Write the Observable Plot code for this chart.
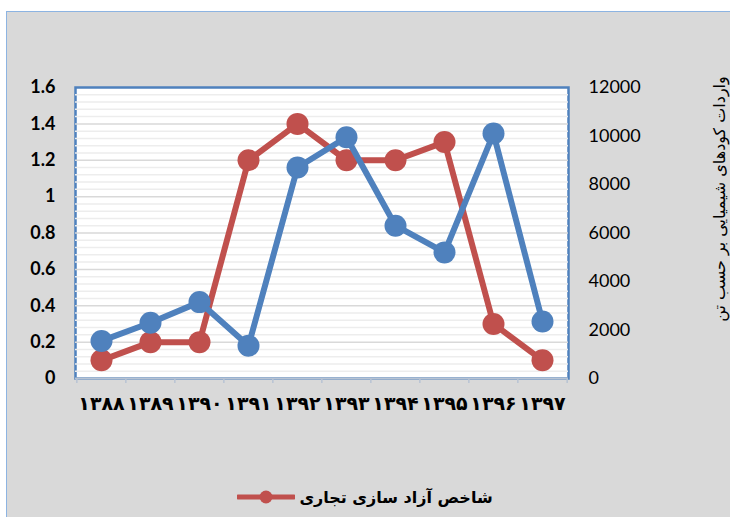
<!DOCTYPE html>
<html><head><meta charset="utf-8">
<script src="https://cdn.jsdelivr.net/npm/d3@7"></script>
<script src="https://cdn.jsdelivr.net/npm/@observablehq/plot@0.6"></script>
<style>
body{margin:0;background:#fff;}
#wrap{position:relative;width:730px;height:517px;overflow:hidden;background:#fff;}
#panel{position:absolute;left:6px;top:11px;width:740px;height:520px;background:#D9D9D9;border-left:1.5px solid #8DB4E2;border-top:1.5px solid #8DB4E2;}
#chart{position:absolute;left:0;top:0;}
#ytitle{position:absolute;left:719px;top:199px;transform:translate(-50%,-50%) rotate(-90deg);white-space:nowrap;font-family:"DejaVu Sans";font-size:16px;color:#000;direction:rtl;}
#legend{position:absolute;left:0;width:730px;top:485px;height:24px;display:flex;justify-content:center;align-items:center;gap:4px;}
#legend span{font-family:"DejaVu Sans";font-weight:bold;font-size:16px;color:#000;direction:rtl;}
</style>
</head><body>
<div id="wrap">
  <div id="panel"></div>
  <div id="chart"></div>
  <div id="ytitle"></div>
  <div id="legend"></div>
</div>
<script>
// ---- data ----
const years = ["1388","1389","1390","1391","1392","1393","1394","1395","1396","1397"];
const yearLabels = ["۱۳۸۸","۱۳۸۹","۱۳۹۰","۱۳۹۱","۱۳۹۲","۱۳۹۳","۱۳۹۴","۱۳۹۵","۱۳۹۶","۱۳۹۷"];
const tradeIndex = [0.1, 0.2, 0.2, 1.2, 1.4, 1.2, 1.2, 1.3, 0.3, 0.1];
const fertilizerImports = [1550, 2300, 3150, 1350, 8700, 9950, 6300, 5200, 10100, 2350];
const leftTicks = [0, 0.2, 0.4, 0.6, 0.8, 1, 1.2, 1.4, 1.6];
const rightTicks = [0, 2000, 4000, 6000, 8000, 10000, 12000];
const seriesName = "شاخص آزاد سازی تجاری";
const rightTitle = "واردات کودهای شیمیایی بر حسب تن";

// ---- layout ----
const W = 730, H = 430, mL = 75, mR = 162, mT = 87, mB = 52;
const red = "#C0504D", blue = "#4F81BD";
const ratio = rightTicks[rightTicks.length-1] / leftTicks[leftTicks.length-1];
const step = (W - mL - mR) / years.length;
const pxPerUnit = (H - mT - mB) / leftTicks[leftTicks.length-1];

const redData = years.map((y,i) => ({year:y, v:tradeIndex[i]}));
const blueData = years.map((y,i) => ({year:y, v:fertilizerImports[i]/ratio}));
const majors = leftTicks.slice(1, -1);
const minors = d3.range(1, 40).map(i => i*0.04).filter(v => Math.abs(v/0.2 - Math.round(v/0.2)) > 1e-6);
const tickLen = 5 / pxPerUnit;

const plot = Plot.plot({
  width: W, height: H,
  marginLeft: mL, marginRight: mR, marginTop: mT, marginBottom: mB,
  style: {background: "transparent", overflow: "visible"},
  x: {type: "point", domain: years, padding: 0.5, axis: null},
  y: {domain: [0, 1.6], axis: null},
  marks: [
    Plot.frame({fill: "white", stroke: blue, strokeWidth: 2.5}),
    Plot.ruleY(minors, {stroke: "#EDEDED", strokeWidth: 1.5}),
    Plot.ruleY(majors, {stroke: "#D9D9D9", strokeWidth: 1.5}),
    Plot.ruleY([0], {stroke: "#B7C3D3", strokeWidth: 2}),
    Plot.ruleX(years, {x: d => d, y1: 0, y2: -tickLen, dx: -step/2, stroke: "#B7C3D3", strokeWidth: 1.5}),
    Plot.ruleX(years.slice(-1), {x: d => d, y1: 0, y2: -tickLen, dx: step/2, stroke: "#B7C3D3", strokeWidth: 1.5}),
    Plot.line(redData, {x: "year", y: "v", stroke: red, strokeWidth: 6}),
    Plot.dot(redData, {x: "year", y: "v", r: 11, fill: red}),
    Plot.line(blueData, {x: "year", y: "v", stroke: blue, strokeWidth: 6}),
    Plot.dot(blueData, {x: "year", y: "v", r: 11, fill: blue}),
    Plot.text(leftTicks, {y: d => d, text: d => String(d), frameAnchor: "left", textAnchor: "end", dx: -20,
      fontFamily: "Lato", fontWeight: "bold", fontSize: 18, fill: "#000"}),
    Plot.text(rightTicks, {y: d => d/ratio, text: d => String(d), frameAnchor: "right", textAnchor: "start", dx: 20,
      fontFamily: "Lato", fontSize: 18, fill: "#000"}),
    Plot.text(years, {x: d => d, text: (d,i) => yearLabels[i], frameAnchor: "bottom", dy: 31,
      fontFamily: "DejaVu Sans", fontWeight: "bold", fontSize: 19, fill: "#000"})
  ]
});
document.getElementById("chart").appendChild(plot);
document.getElementById("ytitle").textContent = rightTitle;

const lg = document.getElementById("legend");
lg.innerHTML = `<svg width="58" height="14"><line x1="1" y1="7" x2="57" y2="7" stroke="${red}" stroke-width="5" stroke-linecap="round"/><circle cx="29" cy="7" r="6.5" fill="${red}"/></svg><span></span>`;
lg.querySelector("span").textContent = seriesName;
</script>
</body></html>
